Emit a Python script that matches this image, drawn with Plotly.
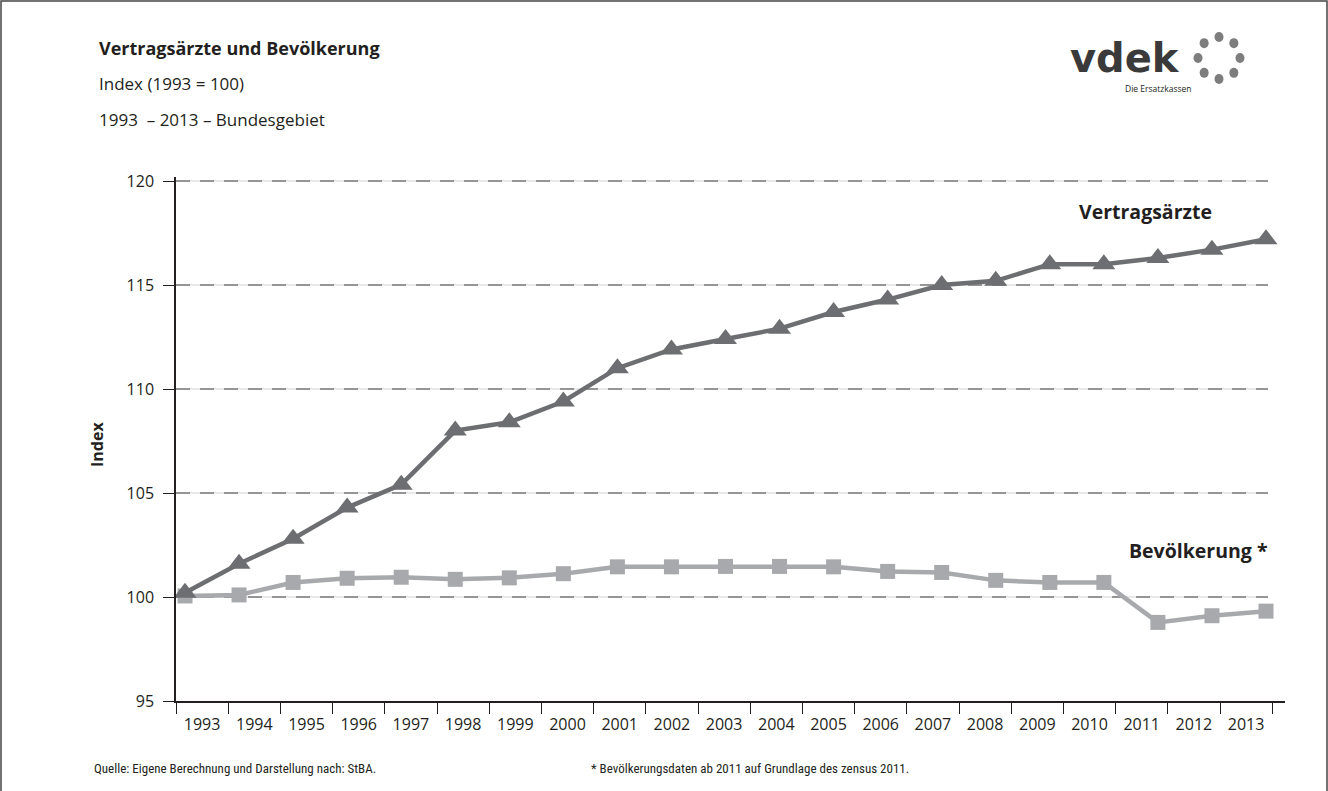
import math
import plotly.graph_objects as go

# ---------------- data ----------------
years = list(range(1993, 2014))
vertragsaerzte = [100.2, 101.6, 102.8, 104.3, 105.4, 108.0, 108.4, 109.4, 111.0, 111.9,
                  112.4, 112.9, 113.7, 114.3, 115.0, 115.2, 116.0, 116.0, 116.3, 116.7, 117.2]
bevoelkerung = [100.05, 100.1, 100.7, 100.9, 100.95, 100.85, 100.92, 101.12, 101.45, 101.45,
                101.47, 101.47, 101.45, 101.23, 101.18, 100.8, 100.7, 100.7, 98.78, 99.1, 99.32]
y_ticks = [95, 100, 105, 110, 115, 120]
year_labels = [str(y) for y in years]

title_lines = ["Vertragsärzte und Bevölkerung", "Index (1993 = 100)", "1993  – 2013 – Bundesgebiet"]
source_text = "Quelle: Eigene Berechnung und Darstellung nach: StBA."
note_text = "* Bevölkerungsdaten ab 2011 auf Grundlage des zensus 2011."

# ---------------- layout geometry ----------------
W, H = 1328, 791
L, R, T, B = 176, 43, 177, 90
PW, PH = W - L - R, H - T - B


def px(xp):
    return (xp - L) / PW


def py(yp):
    return (H - B - yp) / PH


DARK = "#6d6e71"
LIGHT = "#a7a9ac"
TXT = "#231f20"
FONT = "Open Sans, Noto Sans, sans-serif"
NARROW = "Liberation Sans Narrow, Roboto Condensed, Roboto, sans-serif"

fig = go.Figure()

fig.add_trace(go.Scatter(
    x=years, y=bevoelkerung, mode="lines+markers", name="Bevölkerung *",
    line=dict(color=LIGHT, width=4.5),
    marker=dict(symbol="square", size=15, color=LIGHT),
    showlegend=False))
fig.add_trace(go.Scatter(
    x=years, y=vertragsaerzte, mode="lines+markers", name="Vertragsärzte",
    line=dict(color=DARK, width=4.5),
    marker=dict(symbol="triangle-up", size=20, color=DARK),
    showlegend=False))
# empty trace carrying the category (band) axis used for labels / ticks
fig.add_trace(go.Scatter(x=[], y=[], xaxis="x2", yaxis="y", showlegend=False, hoverinfo="skip"))

n = len(years)
band_px = 52.2
first_pt_px, step_px = 185, 54.05

fig.update_layout(
    width=W, height=H,
    margin=dict(l=L, r=R, t=T, b=B),
    paper_bgcolor="white", plot_bgcolor="white",
    font=dict(family=FONT, color=TXT, size=16),
    xaxis=dict(
        visible=False,
        range=[years[0] - (first_pt_px - L) / step_px,
               years[0] + (W - R - first_pt_px) / step_px],
        fixedrange=True,
    ),
    xaxis2=dict(
        overlaying="x", anchor="y", side="bottom",
        range=[0, PW / band_px],
        tickmode="array",
        tickvals=[i + 0.5 for i in range(n)],
        ticktext=year_labels,
        ticks="",
        ticklabelstandoff=8,
        tickfont=dict(size=16, family=FONT, color=TXT),
        minor=dict(tickmode="linear", tick0=0, dtick=1, ticks="outside",
                   ticklen=11, tickwidth=1.3, tickcolor=TXT, showgrid=False),
        showline=True, linecolor=TXT, linewidth=1.5,
        showgrid=False, zeroline=False,
    ),
    yaxis=dict(
        range=[95, 95 + PH / 20.8],
        tickmode="array", tickvals=y_ticks,
        ticks="outside", ticklen=11, tickwidth=1.3, tickcolor=TXT,
        ticklabelstandoff=6,
        tickfont=dict(size=16, family=FONT, color=TXT),
        showline=True, linecolor=TXT, linewidth=1.5,
        showgrid=False, zeroline=False,
    ),
)

# gridlines: light solid line with darker dashes on top
for v in y_ticks[1:]:
    fig.add_shape(type="line", xref="paper", yref="y", x0=0, x1=px(1268), y0=v, y1=v,
                  line=dict(color="#d4d4d4", width=1.2), layer="below")
    fig.add_shape(type="line", xref="paper", yref="y", x0=0, x1=px(1268), y0=v, y1=v,
                  line=dict(color="#7a7a7a", width=1.3, dash="14px,10px"), layer="below")

# frame around the figure (top, left, right)
fig.add_shape(type="path", xref="paper", yref="paper",
              path=f"M {px(1)},{py(H)} L {px(1)},{py(1)} L {px(W-1)},{py(1)} L {px(W-1)},{py(H)}",
              line=dict(color="#444444", width=1.5))

# titles
title_y = [48, 83, 119]
title_sizes = [18, 17, 17]
for i, (txt, yy, fs) in enumerate(zip(title_lines, title_y, title_sizes)):
    fig.add_annotation(xref="paper", yref="paper", x=px(97), y=py(yy), xanchor="left", yanchor="middle",
                       text=f"<b>{txt}</b>" if i == 0 else txt, showarrow=False,
                       font=dict(size=fs, family=FONT, color=TXT))

# y-axis title
fig.add_annotation(xref="paper", yref="paper", x=px(97), y=py(445), textangle=-90,
                   text="<b>Index</b>", showarrow=False, xanchor="center", yanchor="middle",
                   font=dict(size=16, family=FONT, color=TXT))

# series labels
fig.add_annotation(xref="paper", yref="paper", x=px(1077), y=py(211), xanchor="left", yanchor="middle",
                   text="<b>Vertragsärzte</b>", showarrow=False, font=dict(size=19.5, family=FONT, color=TXT))
fig.add_annotation(xref="paper", yref="paper", x=px(1270), y=py(550), xanchor="right", yanchor="middle",
                   text="<b>Bevölkerung *</b>", showarrow=False, font=dict(size=19.5, family=FONT, color=TXT))

# footer
fig.add_annotation(xref="paper", yref="paper", x=px(92), y=py(768), xanchor="left", yanchor="middle",
                   text=source_text, showarrow=False, font=dict(size=13, family=NARROW, color=TXT))
fig.add_annotation(xref="paper", yref="paper", x=px(589), y=py(768), xanchor="left", yanchor="middle",
                   text=note_text, showarrow=False, font=dict(size=13, family=NARROW, color=TXT))

# logo
fig.add_annotation(xref="paper", yref="paper", x=px(1068), y=py(58), xanchor="left", yanchor="middle",
                   text="<b>vdek</b>", showarrow=False,
                   font=dict(size=40, family="DejaVu Sans, sans-serif", color="#3a3a3a"))
fig.add_annotation(xref="paper", yref="paper", x=px(1158), y=py(88), xanchor="center", yanchor="middle",
                   text="Die Ersatzkassen", showarrow=False, font=dict(size=8.5, family=FONT, color=TXT))
cx, cy, rad = 1219, 58, 21
for k in range(8):
    a = 2 * math.pi * k / 8
    fig.add_shape(type="circle", xref="paper", yref="paper",
                  xsizemode="pixel", ysizemode="pixel",
                  xanchor=px(cx + rad * math.cos(a)), yanchor=py(cy + rad * math.sin(a)),
                  x0=-4.5, x1=4.5, y0=-5, y1=5,
                  fillcolor="#7d7d7d", line=dict(width=0))

fig.write_html("out.html")
